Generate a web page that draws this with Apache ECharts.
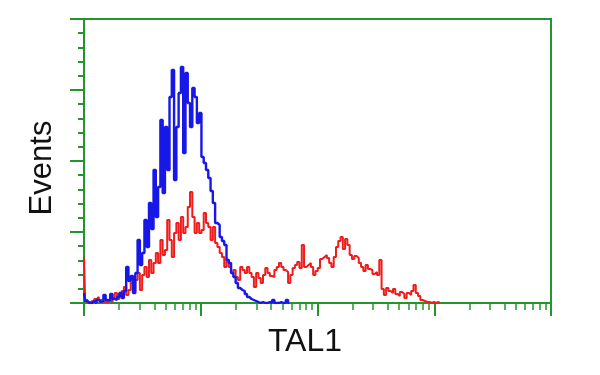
<!DOCTYPE html>
<html>
<head>
<meta charset="utf-8">
<script src="https://cdn.jsdelivr.net/npm/echarts@6/dist/echarts.min.js"></script>
<style>
html,body{margin:0;padding:0;background:#fff;}
#chart{width:600px;height:375px;}
</style>
</head>
<body>
<div id="chart"></div>
<script>
// Histogram channels: 1024 channels over 4 log decades, bins of 5 channels
const binWidth = 5;
const decadeChannels = 256;
const decades = [0, 1, 2, 3, 4];
const minorMultipliers = [2, 3, 4, 5, 6, 7, 8, 9];

// Red histogram (TAL1 antibody), events per bin starting at channel 0
const redEvents = [
  46,3,0,2,0,4,6,3,1,2,
  0,3,1,5,10,4,8,12,16,8,
  13,20,12,23,30,13,28,36,26,43,
  30,40,50,40,63,48,53,83,63,46,
  70,80,63,86,70,76,96,111,86,70,
  80,70,73,90,80,76,63,76,60,56,
  50,46,36,43,36,30,33,26,23,36,
  33,30,36,30,26,16,30,25,20,28,
  35,30,27,26,33,36,40,36,33,31,
  20,28,35,38,41,35,58,36,38,40,
  36,28,32,35,44,46,48,45,40,36,
  46,56,62,66,54,64,58,48,44,47,
  45,40,36,32,38,34,33,29,31,28,
  43,14,8,15,12,10,14,9,7,11,
  9,5,10,8,12,18,10,7,3,2,
  1,1,0,1,0,1,0
];

// Blue histogram (negative control), events per bin starting at channel 0
const blueEvents = [
  10,2,0,0,2,0,3,1,2,8,
  3,2,9,4,3,6,10,5,12,36,
  22,27,10,30,63,38,50,83,56,100,
  74,133,86,116,183,110,176,133,206,233,
  123,176,210,236,150,230,200,176,215,206,
  180,190,146,140,133,125,112,100,80,78,
  66,62,58,43,40,30,26,20,15,13,
  12,9,6,4,3,2,1,0,1,0,
  0,1,0,3,0,0,1,0,0,3,0
];

const xTitle = 'TAL1';
const yTitle = 'Events';

const green = '#23962b';

function toPairs(vals) {
  return vals.map(function (v, i) { return [i * binWidth, v]; });
}

const minorTicks = [];
for (let d = 0; d < decades.length - 1; d++) {
  minorMultipliers.forEach(function (k) {
    minorTicks.push((decades[d] + Math.log10(k)) * decadeChannels);
  });
}

const chart = echarts.init(document.getElementById('chart'), null, {renderer: 'canvas'});
chart.setOption({
  animation: false,
  backgroundColor: '#ffffff',
  grid: {left: 84, top: 19, width: 467, height: 284, containLabel: false},
  xAxis: [
    {
      type: 'value', position: 'bottom', min: 0, max: 1024, interval: 256,
      axisLine: {show: true, onZero: false, lineStyle: {color: green, width: 2}},
      axisTick: {show: true, inside: false, length: 13, lineStyle: {color: green, width: 2}},
      axisLabel: {show: false},
      splitLine: {show: false}
    },
    {
      type: 'value', position: 'bottom', min: 0, max: 1024, interval: 256,
      axisLine: {show: false, onZero: false},
      axisTick: {show: true, inside: false, length: 7, customValues: minorTicks, lineStyle: {color: green, width: 1.5}},
      axisLabel: {show: false},
      splitLine: {show: false}
    },
    {
      type: 'value', position: 'top', min: 0, max: 1024, interval: 256,
      axisLine: {show: true, onZero: false, lineStyle: {color: green, width: 2}},
      axisTick: {show: false},
      axisLabel: {show: false},
      splitLine: {show: false}
    }
  ],
  yAxis: [
    {
      type: 'value', position: 'left', min: 0, max: 284, interval: 71,
      axisLine: {show: true, onZero: false, lineStyle: {color: green, width: 2}},
      axisTick: {show: true, inside: false, length: 14, lineStyle: {color: green, width: 2}},
      minorTick: {show: true, splitNumber: 5, length: 6, lineStyle: {color: green, width: 2}},
      axisLabel: {show: false},
      splitLine: {show: false}
    },
    {
      type: 'value', position: 'right', min: 0, max: 284, interval: 71,
      axisLine: {show: true, onZero: false, lineStyle: {color: green, width: 2}},
      axisTick: {show: false},
      axisLabel: {show: false},
      splitLine: {show: false}
    }
  ],
  graphic: [
    {
      type: 'text', x: 305, y: 342, z: 10,
      style: {text: xTitle, font: '32px "Liberation Sans", Arial, sans-serif', fill: '#111111', align: 'center', verticalAlign: 'middle'}
    },
    {
      type: 'text', x: 42, y: 168, rotation: Math.PI / 2, z: 10,
      style: {text: yTitle, font: '31px "Liberation Sans", Arial, sans-serif', fill: '#111111', align: 'center', verticalAlign: 'middle'}
    }
  ],
  series: [
    {
      name: 'TAL1', type: 'line', xAxisIndex: 0, yAxisIndex: 0, step: 'middle',
      data: toPairs(redEvents), showSymbol: false, symbol: 'none',
      lineStyle: {color: '#f01c1c', width: 2}, z: 3
    },
    {
      name: 'Control', type: 'line', xAxisIndex: 0, yAxisIndex: 0, step: 'middle',
      data: toPairs(blueEvents), showSymbol: false, symbol: 'none',
      lineStyle: {color: '#1717e8', width: 2.4}, z: 4
    }
  ]
});
</script>
</body>
</html>
